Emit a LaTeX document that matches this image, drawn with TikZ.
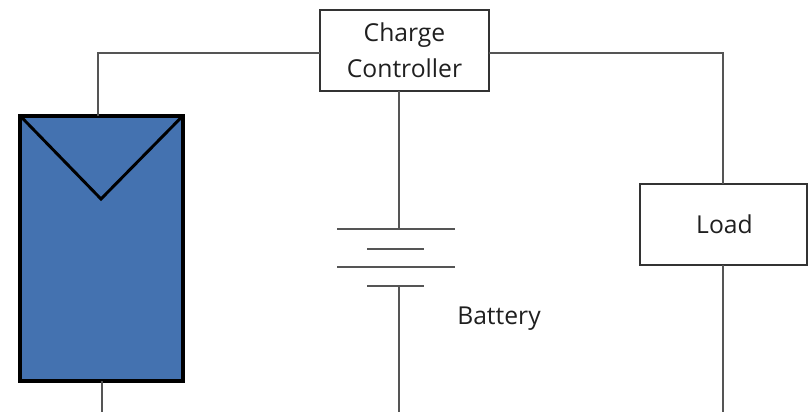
\documentclass[tikz,border=0pt]{standalone}
\usepackage{fontspec}
\setmainfont{Open Sans}
\definecolor{panelblue}{HTML}{4472B0}
\definecolor{wiregray}{HTML}{555555}
\tikzset{
  box/.style={draw=black!80, fill=white, line width=1.1pt, inner sep=0pt, outer sep=0pt, align=center, font=\fontsize{18.5}{26.5}\selectfont, text=black!88},
  wire/.style={draw=wiregray, line width=1.1pt},
}
\begin{document}
\begin{tikzpicture}[x=0.75pt, y=-0.75pt]
\useasboundingbox (0,0) rectangle (808,412);
\coordinate (Tl) at (98,53);
\coordinate (Tr) at (723,53);
\coordinate (Bp) at (102,412);
\coordinate (Bb) at (399,412);
\coordinate (Bl) at (723,412);
\coordinate (Vtip) at (101,199);
\coordinate (Pa) at (337,229);
\coordinate (Pb) at (455,229);
\coordinate (Pc) at (367,249);
\coordinate (Pd) at (424,249);
\coordinate (Pe) at (337,267);
\coordinate (Pf) at (455,267);
\coordinate (Pg) at (367,286);
\coordinate (Ph) at (424,286);

\node[draw=black, fill=panelblue, line width=2.7pt, inner sep=0pt, outer sep=0pt, minimum width=122pt, minimum height=199pt] (panel) at (101.5,248.5) {};
\node[box, minimum width=126.75pt, minimum height=60.75pt] (ctrl) at (404.5,50.5) {\raisebox{0.6pt}{Charge}\\\raisebox{0.6pt}{Controller}};
\node[box, minimum width=125.25pt, minimum height=60.75pt] (load) at (723.5,224.5) {\hspace{1.5pt}Load};
\node[anchor=west, inner sep=0pt, font=\fontsize{18.5}{27}\selectfont, text=black!88] (batt) at (457,318.5) {Battery};

\draw[black, line width=2.2pt] (panel.north west) -- (Vtip) -- (panel.north east);
\draw[wire] (panel.north -| Tl) -- (Tl) -- (Tl -| ctrl.west);
\draw[wire] (ctrl.east |- Tr) -- (Tr) -- (load.north -| Tr);
\draw[wire] (load.south -| Bl) -- (Bl);
\draw[wire] (panel.south -| Bp) -- (Bp);
\draw[wire] (ctrl.south -| Bb) -- (Pa -| Bb);
\draw[wire] (Pg -| Bb) -- (Bb);
\draw[wire] (Pa) -- (Pb);
\draw[wire] (Pc) -- (Pd);
\draw[wire] (Pe) -- (Pf);
\draw[wire] (Pg) -- (Ph);
\end{tikzpicture}
\end{document}
